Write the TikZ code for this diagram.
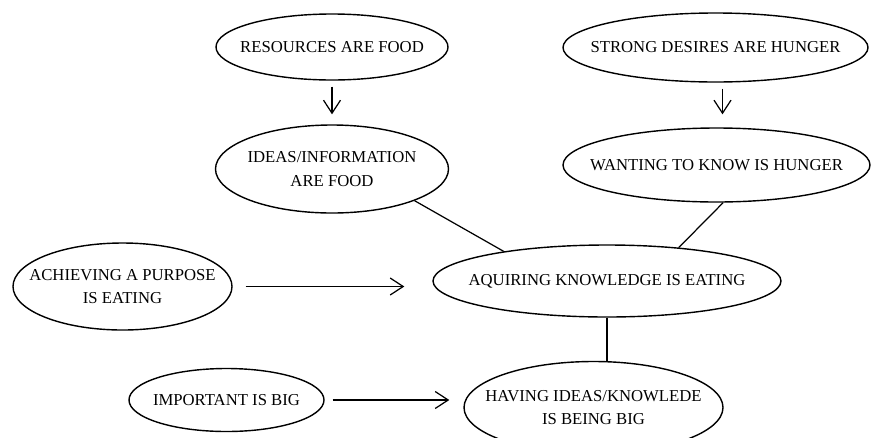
\documentclass[tikz,border=0pt]{standalone}
\usepackage{fontspec}
\setmainfont{Liberation Serif}
\usetikzlibrary{
    shapes.geometric,
    arrows.meta,
    positioning
}

\begin{document}
\begin{tikzpicture}[
    >={Straight Barb[length=2.6mm, width=3.4mm]},
    metaphor/.style={draw, ellipse, line width=0.8pt, inner xsep=-1cm, inner ysep=-0.3cm, align=center, font=\fontsize{9.5}{13.5}\selectfont},
    link/.style={line width=0.7pt}
]
                \useasboundingbox (0,0) rectangle (17.44,-8.74);

                % Source metaphors
                \node[metaphor, minimum width=4.64cm, minimum height=1.32cm] (resources) at (6.64,-0.94) {RESOURCES ARE FOOD};
                \node[metaphor, minimum width=6.10cm, minimum height=1.38cm] (desires) at (14.31,-0.95) {STRONG DESIRES ARE HUNGER};

                % Derived metaphors
                \node[metaphor, minimum width=4.66cm, minimum height=1.76cm] (ideas) at (6.64,-3.38) {IDEAS/INFORMATION\\ARE FOOD};
                \node[metaphor, minimum width=6.14cm, minimum height=1.48cm] (wanting) at (14.33,-3.30) {WANTING TO KNOW IS HUNGER};

                % Central node
                \node[metaphor, minimum width=6.96cm, minimum height=1.44cm] (acquiring) at (12.14,-5.62) {AQUIRING KNOWLEDGE IS EATING};

                % Left side
                \node[metaphor, minimum width=4.38cm, minimum height=1.74cm] (purpose) at (2.45,-5.73) {ACHIEVING A PURPOSE\\IS EATING};
                \node[metaphor, minimum width=3.90cm, minimum height=1.26cm] (important) at (4.53,-8.00) {IMPORTANT IS BIG};

                % Bottom
                \node[metaphor, minimum width=5.18cm, minimum height=1.84cm] (having) at (11.87,-8.15) {HAVING IDEAS/KNOWLEDE\\IS BEING BIG};

                % Arrows
                \draw[->, link, shorten <=0.12cm, shorten >=0.2cm] (resources) -- (ideas);
                \draw[->, link, shorten <=0.12cm, shorten >=0.26cm] ([xshift=0.14cm]desires.south) -- ([xshift=0.14cm]desires.south |- wanting.north);
                \draw[->, link, shorten <=0.26cm, shorten >=0.56cm] (purpose.east) -- (purpose.east -| acquiring.west);
                \draw[->, link, shorten <=0.16cm, shorten >=0.28cm] (important.east) -- (important.east -| having.west);

                % Lines
                \draw[link] (ideas.-21) -- (acquiring.164);
                \draw[link] (wanting.-80) -- (acquiring.25);
                \draw[link] (acquiring.south) -- (acquiring.south |- having.north);
            \end{tikzpicture}
\end{document}
